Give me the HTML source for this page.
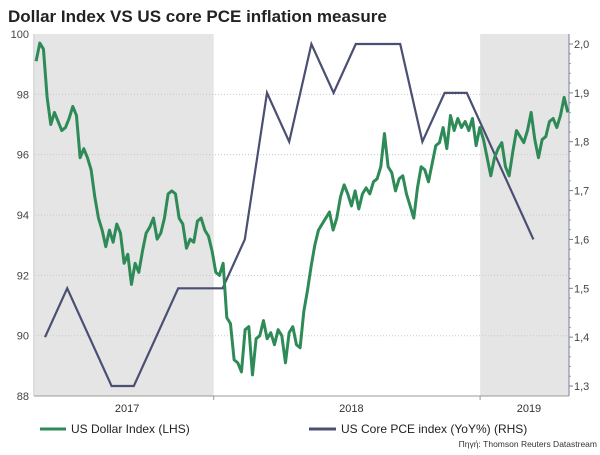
<!DOCTYPE html>
<html><head><meta charset="utf-8"><style>
body{margin:0;background:#fff;width:600px;height:450px;overflow:hidden;font-family:"Liberation Sans",Arial,sans-serif}
svg text{font-family:"Liberation Sans",Arial,sans-serif}
</style></head><body>
<svg width="600" height="450">
<text x="8" y="22" font-size="17" font-weight="bold" fill="#222">Dollar Index VS US core PCE inflation measure</text>
<g id="g"></g>
</svg>
<script>
const leftTicks=[88,90,92,94,96,98,100];
const rightTicks=["1,3","1,4","1,5","1,6","1,7","1,8","1,9","2,0"];
const rightTickVals=[1.3,1.4,1.5,1.6,1.7,1.8,1.9,2.0];
const yearLabels=["2017","2018","2019"];
const yearMonths=[3.7,13.8,21.8];
const yearBoundaries=[-0.45,7.6,19.6,23.6];
const pce=[1.4,1.5,1.4,1.3,1.3,1.4,1.5,1.5,1.5,1.6,1.9,1.8,2.0,1.9,2.0,2.0,2.0,1.8,1.9,1.9,1.8,1.7,1.6];
const dxy=[99.1,99.7,99.5,97.9,97.0,97.4,97.1,96.8,96.9,97.2,97.6,97.3,95.9,96.2,95.9,95.5,94.6,93.9,93.5,92.95,93.5,93.1,93.7,93.4,92.4,92.7,91.7,92.4,92.1,92.8,93.4,93.6,93.9,93.2,93.4,93.9,94.7,94.8,94.7,93.9,93.7,92.9,93.2,93.1,93.8,93.9,93.5,93.3,92.8,92.1,92.0,92.4,90.6,90.4,89.2,89.1,88.8,90.2,90.3,88.7,89.9,90.0,90.5,89.9,90.1,89.7,90.2,90.0,89.1,90.1,90.3,89.7,89.6,90.8,91.5,92.3,93.0,93.5,93.7,93.9,94.1,93.5,93.9,94.6,95.0,94.7,94.3,94.8,94.2,94.7,94.9,94.7,95.1,95.2,95.6,96.7,95.6,95.4,94.8,95.2,95.3,94.7,94.3,93.9,94.9,95.6,95.5,95.1,95.7,96.3,96.4,96.9,96.2,97.3,96.8,97.2,96.9,97.1,96.8,97.2,96.3,96.9,96.5,95.9,95.3,95.9,96.2,96.4,95.6,95.3,96.1,96.8,96.6,96.4,96.8,97.4,96.5,95.9,96.5,96.6,97.1,97.2,96.9,97.3,97.9,97.4];
const dxyStart=-0.4, dxyEnd=23.55;
const X=m=>45+m*22.2;
const YL=v=>34+(100-v)*30.17;
const YR=v=>44+(2.0-v)*488.6;
const NS='http://www.w3.org/2000/svg';
const g=document.getElementById('g');
function mk(t,a,p){const e=document.createElementNS(NS,t);for(const k in a)e.setAttribute(k,a[k]);(p||g).appendChild(e);return e;}
// shading
[[0,1],[2,3]].forEach((r,i)=>{const e=mk('rect',{x:X(yearBoundaries[r[0]]),y:34,width:X(yearBoundaries[r[1]])-X(yearBoundaries[r[0]]),height:YL(88)-34,fill:'#e5e5e5'});

});
// grid + left ticks
leftTicks.forEach(v=>{if(v>88&&v<100){const l=mk('line',{x1:35,x2:569,y1:YL(v),y2:YL(v),stroke:'#c8c8c8','stroke-dasharray':'1,2'});

}
const t=mk('text',{x:29,y:YL(v)+4,'text-anchor':'end','font-size':11,fill:'#444'});t.textContent=v;

});
rightTickVals.forEach((v,i)=>{const t=mk('text',{x:574,y:YR(v)+4,'font-size':11,fill:'#444'});t.textContent=rightTicks[i];


mk('line',{x1:569,x2:573,y1:YR(v),y2:YR(v),stroke:'#7a7f9a'});
if(i<rightTickVals.length-1)for(let k=1;k<5;k++){const y=YR(v+k*0.02);mk('line',{x1:569,x2:571,y1:y,y2:y,stroke:'#9a9fb5'});}});
// axes
const ax=[mk('line',{x1:34,x2:34,y1:34,y2:YL(88),stroke:'#bbb'}),mk('line',{x1:569,x2:569,y1:34,y2:YL(88),stroke:'#7a7f9a'}),mk('line',{x1:34,x2:569,y1:YL(88),y2:YL(88),stroke:'#999'})];
ax.forEach(a=>{});
[1,2].forEach(i=>mk('line',{x1:X(yearBoundaries[i]),x2:X(yearBoundaries[i]),y1:YL(88),y2:YL(88)+4,stroke:'#999'}));
yearLabels.forEach((s,i)=>{const t=mk('text',{x:X(yearMonths[i]),y:412,'text-anchor':'middle','font-size':11,fill:'#333'});t.textContent=s;

});
// pce line
const pp=mk('polyline',{points:pce.map((v,i)=>X(i)+','+YR(v)).join(' '),fill:'none',stroke:'#4a4f73','stroke-width':2.2});


// dxy line
const st=(dxyEnd-dxyStart)/(dxy.length-1);
const dp=mk('polyline',{points:dxy.map((v,i)=>X(dxyStart+i*st)+','+YL(v)).join(' '),fill:'none',stroke:'#2e8b57','stroke-width':3,'stroke-linejoin':'round'});


// legend
const l1=mk('line',{x1:40,x2:66,y1:429,y2:429,stroke:'#2e8b57','stroke-width':3});


const t1=mk('text',{x:71,y:433,'font-size':12,fill:'#222'});t1.textContent='US Dollar Index (LHS)';


const l2=mk('line',{x1:309,x2:336,y1:429,y2:429,stroke:'#4a4f73','stroke-width':3});


const t2=mk('text',{x:341,y:433,'font-size':12,fill:'#222'});t2.textContent='US Core PCE index (YoY%) (RHS)';


const t3=mk('text',{x:597,y:447,'text-anchor':'end','font-size':8.5,fill:'#333'});t3.textContent='Πηγή: Thomson Reuters Datastream';


</script>
</body></html>
